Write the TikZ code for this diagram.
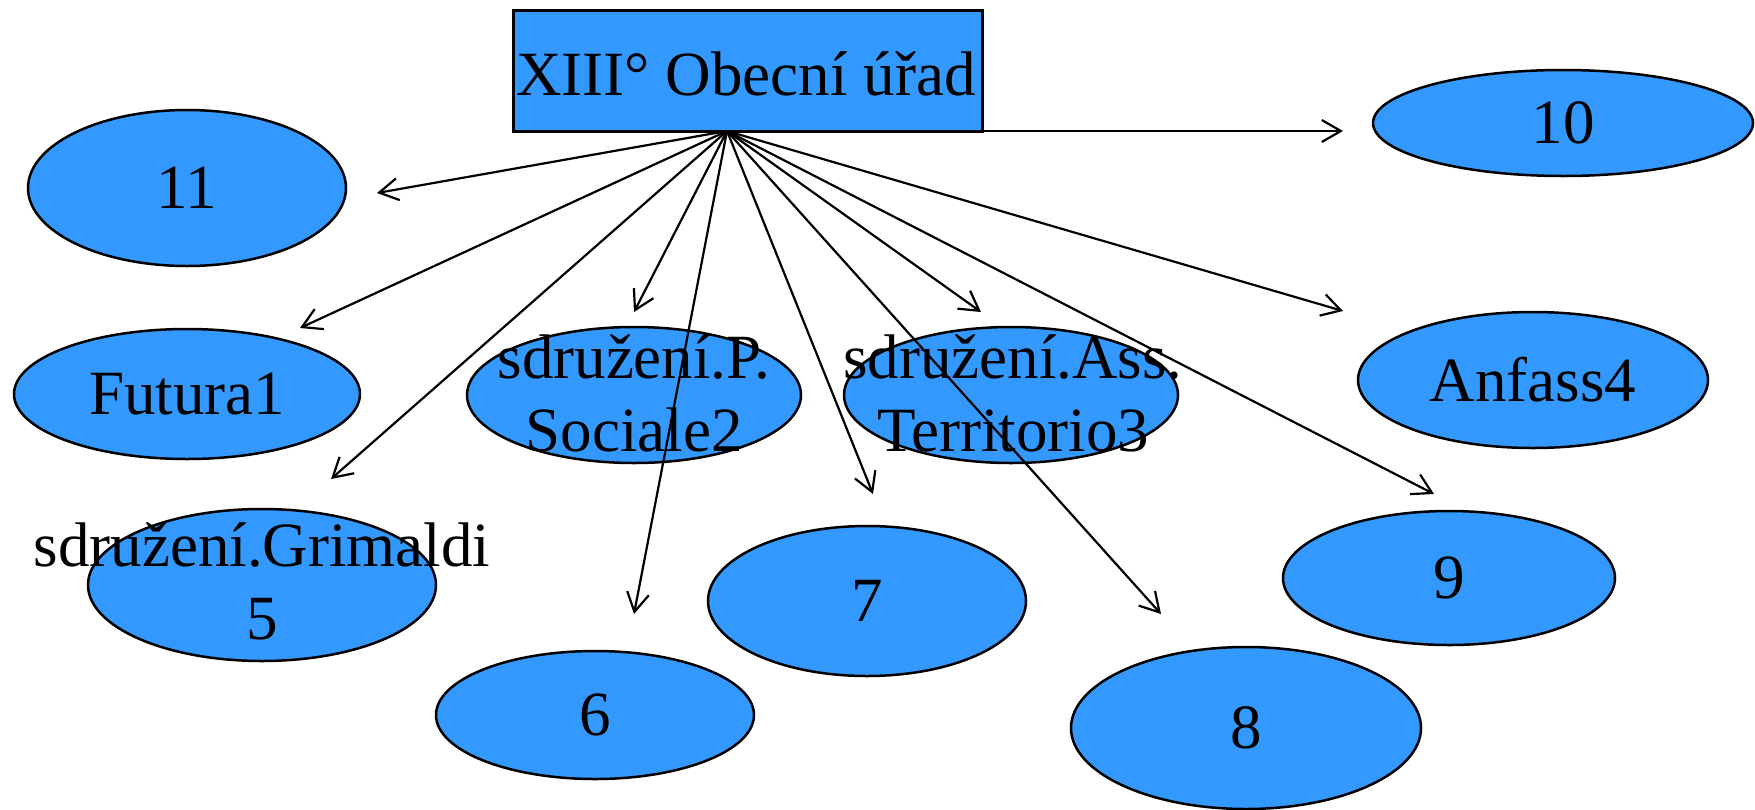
\documentclass[tikz,border=0pt]{standalone}
\usepackage{fontspec}
\setmainfont{Liberation Serif}
\usetikzlibrary{shapes.geometric,arrows.meta}
\definecolor{nodeblue}{RGB}{51,153,255}
\tikzset{
  oval/.style={ellipse, draw=black, line width=2.5pt, fill=nodeblue, inner sep=0pt},
  titlebox/.style={rectangle, draw=black, line width=3pt, fill=nodeblue, inner sep=0pt},
  txt/.style={align=center, font=\fontsize{63}{73}\selectfont, inner sep=0pt},
  conn/.style={line width=2.2pt, -{Straight Barb[length=19pt,width=22pt,line width=2.2pt]}},
}
\begin{document}
\begin{tikzpicture}[x=1pt,y=-1pt]
\useasboundingbox (0,0) rectangle (1755,809);
% title box
\node[titlebox, minimum width=469pt, minimum height=121pt] (top) at (747.5,70.5) {};
\node[txt, anchor=base] (toptxt) at (746,95) {XIII° Obecní úřad};
% ellipses
\node[oval, minimum width=318pt, minimum height=156pt] (n11) at (187,188) {};
\node[oval, minimum width=380pt, minimum height=106pt] (n10) at (1563,123) {};
\node[oval, minimum width=346pt, minimum height=130pt] (n1) at (187,394) {};
\node[oval, minimum width=334pt, minimum height=136pt] (n2) at (634,395) {};
\node[oval, minimum width=334pt, minimum height=136pt] (n3) at (1011,395) {};
\node[oval, minimum width=350pt, minimum height=136pt] (n4) at (1533,380) {};
\node[oval, minimum width=348pt, minimum height=152pt] (n5) at (262,585) {};
\node[oval, minimum width=318pt, minimum height=128pt] (n6) at (595,715) {};
\node[oval, minimum width=318pt, minimum height=150pt] (n7) at (867,601) {};
\node[oval, minimum width=350pt, minimum height=162pt] (n8) at (1246,728) {};
\node[oval, minimum width=332pt, minimum height=134pt] (n9) at (1449,578) {};
% labels
\node[txt] (t11) at (n11) {11};
\node[txt] (t10) at (n10) {10};
\node[txt] (t1) at (n1) {Futura1};
\node[txt] (t2) at ([yshift=2pt]n2) {sdružení.P.\\Sociale2};
\node[txt] (t3) at ([xshift=2pt,yshift=2pt]n3) {sdružení.Ass.\\Territorio3};
\node[txt] (t4) at (n4) {Anfass4};
\node[txt] (t5) at ([yshift=4pt]n5) {sdružení.Grimaldi\\5};
\node[txt] (t6) at (n6) {6};
\node[txt] (t7) at (n7) {7};
\node[txt] (t8) at (n8) {8};
\node[txt] (t9) at (n9) {9};
% connector ends
\coordinate (hub) at (727,131);
\coordinate (e10) at (1343,131);
\coordinate (e11) at (377,193);
\coordinate (e1) at (300,328);
\coordinate (e2) at (634,312);
\coordinate (e3) at (981,312);
\coordinate (e4) at (1343,311);
\coordinate (e5) at (331,479);
\coordinate (e6) at (634,614);
\coordinate (e7) at (873,494);
\coordinate (e8) at (1161,614);
\coordinate (e9) at (1434,494);
\foreach \e in {e10,e11,e1,e2,e3,e4,e5,e6,e7,e8,e9}
  \draw[conn] (hub) -- (\e);
\end{tikzpicture}
\end{document}
